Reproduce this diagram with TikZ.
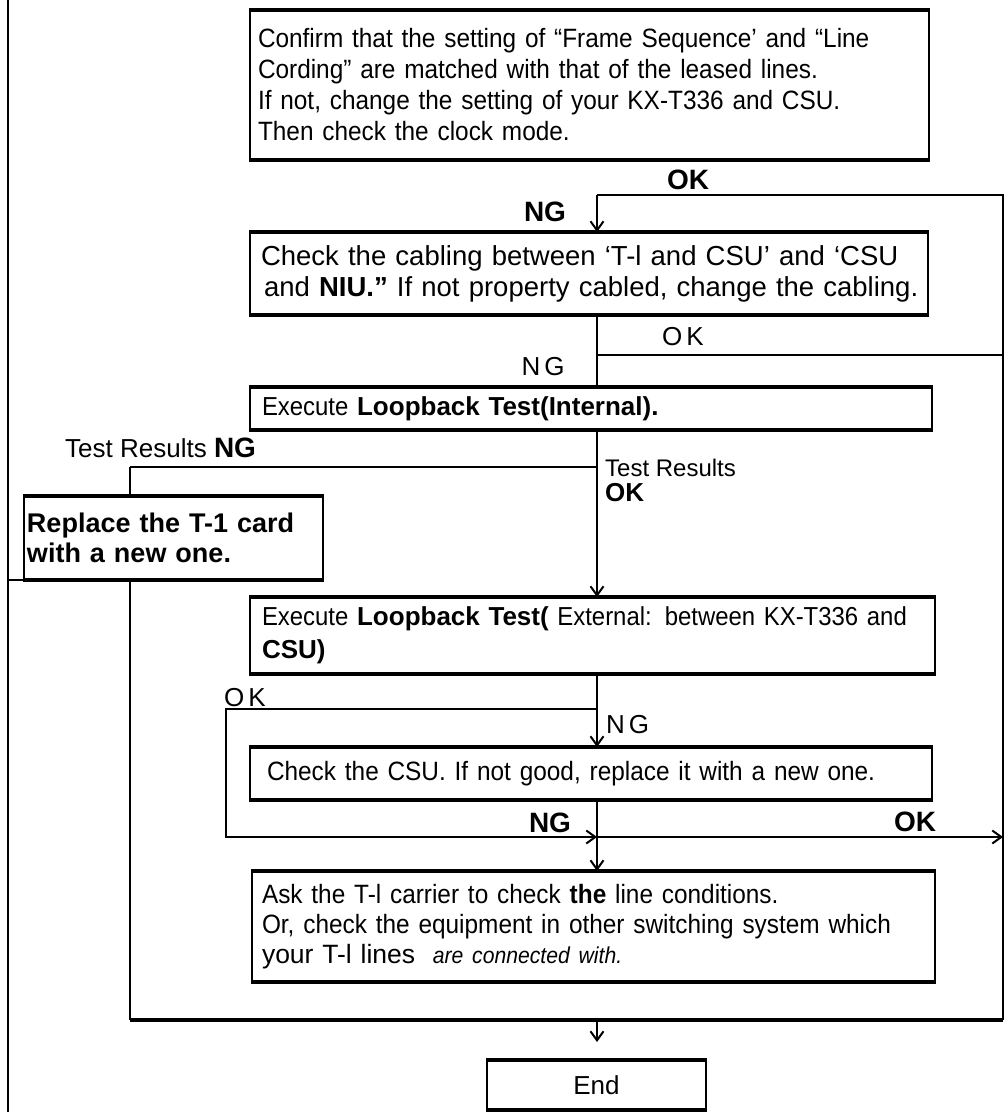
\documentclass[tikz,border=0pt]{standalone}
\usepackage{fontspec}
\setmainfont{Liberation Sans}
\newfontfamily\condfont[FakeStretch=0.92,WordSpace=2.5]{Liberation Sans}
\newfontfamily\widefont[WordSpace=1.7]{Liberation Sans}
\usetikzlibrary{arrows.meta}
\hyphenpenalty=10000
\exhyphenpenalty=10000
\tikzset{
  stepbox/.style={draw, line width=2pt, align=left, inner xsep=10pt, inner ysep=0pt, anchor=center},
  boxrule/.style={line width=4pt},
  wire/.style={line width=2pt},
  thinwire/.style={line width=1.2pt},
  heavy/.style={line width=4pt},
  arrow/.style={-{Straight Barb[length=9pt,width=13pt,line width=2pt]}, line width=2pt},
  lbl/.style={inner sep=0pt, font=\fontsize{26}{30}\selectfont},
  tag/.style={inner sep=0pt, font=\bfseries\fontsize{28}{30}\selectfont}
}

\begin{document}
\begin{tikzpicture}[x=1pt, y=-1pt]
  \useasboundingbox (0,0) rectangle (1006,1112);

  % boxes
  \node[stepbox, text width=663pt, minimum height=148pt, inner xsep=8pt,
        font=\condfont\fontsize{26.5}{31}\selectfont] (confirm) at (589.5,85)
    {Confirm that the setting of “Frame Sequence’ and “Line\\
     Cording” are matched with that of the leased lines.\\
     If not, change the setting of your KX-T336 and CSU.\\
     Then check the clock mode.};
  \node[stepbox, text width=662pt, minimum height=81pt, inner xsep=8pt,
        font=\fontsize{27.5}{31}\selectfont] (cabling) at (589,273.5)
    {\hspace*{3pt}Check the cabling between ‘T-l and CSU’ and ‘CSU\\
     \hspace*{6pt}and \textbf{NIU.”} If not property cabled, change the cabling.};
  \node[stepbox, text width=658pt, minimum height=41pt, inner xsep=12pt,
        font=\fontsize{26}{31}\selectfont] (loopint) at (591,408.5)
    {{\condfont Execute} \textbf{Loopback Test(Internal).}};
  \node[stepbox, text width=293pt, minimum height=82pt, inner xsep=3pt,
        font=\widefont\bfseries\fontsize{27}{30}\selectfont] (replace) at (173.5,538)
    {Replace the T-1 card\\ with a new one.};
  \node[stepbox, text width=661pt, minimum height=75pt, inner xsep=12pt,
        font=\fontsize{26}{33}\selectfont] (loopext) at (592.5,635.5)
    {{\condfont Execute} \textbf{Loopback Test(} {\condfont External: between KX-T336 and}\\
     \textbf{CSU)}};
  \node[stepbox, text width=648pt, minimum height=51pt, inner xsep=17pt,
        font=\condfont\fontsize{26.5}{31}\selectfont] (checkcsu) at (591,773.5)
    {Check the CSU. If not good, replace it with a new one.};
  \node[stepbox, text width=663pt, minimum height=109pt, inner xsep=10pt,
        font=\fontsize{26.5}{30}\selectfont] (carrier) at (593.5,926.5)
    {{\condfont Ask the T-l carrier to check \textbf{the} line conditions.}\\
     {\condfont Or, check the equipment in other switching system which}\\
     your T-l lines\ \ {\condfont\itshape\fontsize{23}{30}\selectfont are connected with.}};
  \node[stepbox, minimum width=219pt, minimum height=48pt, align=center,
        font=\fontsize{26}{30}\selectfont] (endbox) at (596.5,1085) {End};

  \foreach \b in {confirm,cabling,loopint,replace,loopext,checkcsu,carrier,endbox} {
    \draw[boxrule] (\b.north west) -- (\b.north east);
    \draw[boxrule] (\b.south west) -- (\b.south east);
  }

  % junctions
  \coordinate (ftop) at (8,0);
  \coordinate (fbot) at (8,1112);
  \coordinate (ntop) at (597,195);
  \coordinate (rtop) at (1003,195);
  \coordinate (rmid) at (1003,355);
  \coordinate (tres) at (130,467);
  \coordinate (okext) at (226,709);
  \coordinate (jcsu) at (597,837);
  \coordinate (rcsu) at (1003,837);
  \coordinate (lbot) at (130,1020);
  \coordinate (mbot) at (597,1020);
  \coordinate (rbot) at (1003,1020);

  % labels
  \node[tag] (ok1) at (688,180) {OK};
  \node[tag] (ng1) at (545,212) {NG};
  \node[lbl] (ok2) at (683,337) {O\hspace{4pt}K};
  \node[lbl] (ng2) at (543,367) {N\hspace{4pt}G};
  \node[lbl, anchor=west] (resng) at (65,448) {Test Results \textbf{\fontsize{28}{30}\selectfont NG}};
  \node[lbl, anchor=north west, align=left, font=\fontsize{24}{25}\selectfont] (resok) at (605,459)
    {Test Results\\ \textbf{\fontsize{26}{25}\selectfont OK}};
  \node[lbl] (ok3) at (245,698) {O\hspace{4pt}K};
  \node[lbl, anchor=west] (ng3) at (606,725) {N\hspace{4pt}G};
  \node[tag] (ng4) at (550,823) {NG};
  \node[tag] (ok4) at (915,822) {OK};

  % connectors
  \draw[wire] (ftop) -- (fbot);
  \draw[wire] (replace.south west) -- (replace.south west -| ftop);
  \draw[wire] (rbot) -- (rtop) -- (ntop);
  \draw[arrow] (ntop) -- (ntop |- cabling.north);
  \draw[wire] (ntop |- cabling.south) -- (ntop |- loopint.north);
  \draw[wire] (ntop |- rmid) -- (rmid);
  \draw[arrow] (ntop |- loopint.south) -- (ntop |- loopext.north);
  \draw[wire] (ntop |- tres) -- (tres);
  \draw[thinwire] (tres) -- (tres |- replace.north);
  \draw[wire] (lbot |- replace.south) -- (lbot);
  \draw[arrow] (ntop |- loopext.south) -- (ntop |- checkcsu.north);
  \draw[arrow] (ntop |- okext) -- (okext) -- (okext |- jcsu) -- (jcsu);
  \draw[arrow] (ntop |- checkcsu.south) -- (ntop |- carrier.north);
  \draw[arrow] (jcsu) -- (rcsu);
  \draw[heavy] (lbot) -- (rbot);
  \draw[arrow, shorten >=18pt] (mbot) -- (ntop |- endbox.north);
\end{tikzpicture}
\end{document}
